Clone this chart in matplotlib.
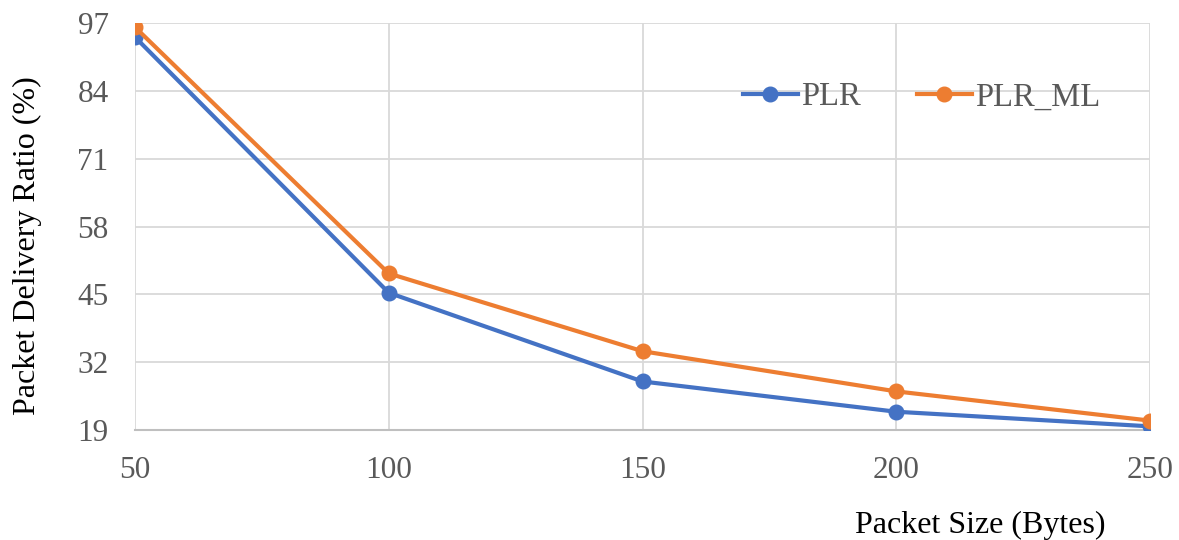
import matplotlib
matplotlib.use("Agg")
import matplotlib.pyplot as plt

# data
packet_size = [50, 100, 150, 200, 250]
plr = [94.3, 45.3, 28.3, 22.5, 19.7]
plr_ml = [96.2, 49.0, 34.1, 26.4, 20.8]
yticks = [19, 32, 45, 58, 71, 84, 97]

plt.rcParams['font.family'] = ['Liberation Serif', 'DejaVu Serif']

fig = plt.figure(figsize=(11.79, 5.40), dpi=100)
ax = fig.add_axes([135/1179, 1 - 430/540, 1015/1179, 407/540])

ax.plot(packet_size, plr, color='#4472C4', lw=3, marker='o', ms=10.5, label='PLR', zorder=3)
ax.plot(packet_size, plr_ml, color='#ED7D31', lw=3, marker='o', ms=10.5, label='PLR_ML', zorder=3)

ax.set_xlim(50, 250)
ax.set_ylim(19, 97)
ax.set_xticks(packet_size)
ax.set_yticks(yticks)
ax.grid(True, color='#D9D9D9', lw=1.3)
ax.set_axisbelow(True)
for s in ['top', 'right', 'left']:
    ax.spines[s].set_visible(False)
ax.spines['bottom'].set_color('#BFBFBF')
ax.spines['bottom'].set_linewidth(1.5)
ax.tick_params(length=0, labelsize=22.5, labelcolor='#595959')
ax.tick_params(axis='y', pad=19)
ax.tick_params(axis='x', pad=19)
for lab in ax.get_xticklabels() + ax.get_yticklabels():
    lab.set_clip_on(False)

ax.set_xlabel('Packet Size (Bytes)', fontsize=23)
ax.xaxis.set_label_coords(0.833, -0.2)
ax.set_ylabel('Packet Delivery Ratio (%)', fontsize=23)
ax.yaxis.set_label_coords(-0.092, 0.453)

ax.legend(loc='center', bbox_to_anchor=(0.775, 0.818), ncol=2, frameon=False,
          fontsize=23.5, labelcolor='#595959', handlelength=1.7, handletextpad=0.1,
          columnspacing=1.7, borderaxespad=0)

fig.savefig('out.png', dpi=100)
